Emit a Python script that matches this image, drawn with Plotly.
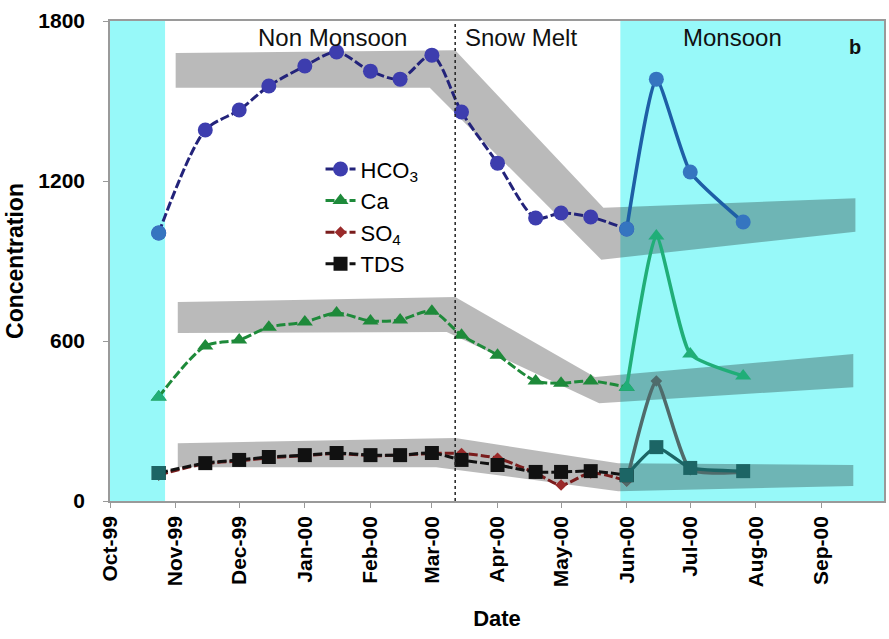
import plotly.graph_objects as go

# Sampling dates (1999-2000 season)
dates = ["1999-10-24", "1999-11-15", "1999-12-01", "1999-12-15", "2000-01-01",
         "2000-01-16", "2000-02-01", "2000-02-15", "2000-03-01", "2000-03-15",
         "2000-04-01", "2000-04-19", "2000-05-01", "2000-05-15", "2000-06-01",
         "2000-06-15", "2000-07-01", "2000-07-26"]

hco3 = [1005, 1391, 1466, 1556, 1631, 1684, 1612, 1582, 1672, 1459,
        1267, 1061, 1080, 1065, 1020, 1582, 1234, 1046]
ca = [390, 581, 604, 652, 671, 705, 675, 679, 712, 622,
      547, 450, 442, 450, 427, 994, 551, 469]
so4 = [98, 140, 150, 162, 170, 178, 170, 172, 178, 178,
       160, 105, 60, 105, 75, 450, 118, 108]
tds = [105, 142, 154, 165, 172, 180, 172, 172, 180, 154,
       135, 109, 109, 112, 97, 202, 124, 112]

# index of the first monsoon sample (lines drawn solid from here on)
monsoon_start = 14

# Expected-range envelopes (date, value) for each parameter
hco3_band_x = ["1999-11-01", "2000-03-12", "2000-05-21", "2000-09-17",
               "2000-09-17", "2000-05-20", "2000-02-29", "1999-11-01"]
hco3_band_y = [1680, 1690, 1100, 1135, 1010, 905, 1550, 1550]
ca_band_x = ["1999-11-02", "2000-03-12", "2000-05-17", "2000-09-16",
             "2000-09-16", "2000-05-19", "2000-03-08", "1999-11-02"]
ca_band_y = [746, 765, 465, 551, 427, 367, 634, 630]
tds_band_x = ["1999-11-02", "2000-03-12", "2000-05-28", "2000-09-16",
              "2000-09-16", "2000-05-28", "2000-03-03", "1999-11-02"]
tds_band_y = [217, 236, 142, 135, 56, 37, 127, 127]

# Season boundaries
monsoon_periods = [("1999-10-01", "1999-10-27"), ("2000-05-29", "2000-10-01")]
snowmelt_start = "2000-03-12"
season_labels = ["Non Monsoon", "Snow Melt", "Monsoon"]
season_label_x = ["2000-01-14", "2000-04-12", "2000-07-21"]

FONT = "Liberation Sans, Arial, sans-serif"
CYAN = "#97F9F9"
BAND = "rgba(0,0,0,0.27)"

fig = go.Figure()

for bx, by in [(hco3_band_x, hco3_band_y), (ca_band_x, ca_band_y),
               (tds_band_x, tds_band_y)]:
    fig.add_trace(go.Scatter(x=bx, y=by, fill="toself", fillcolor=BAND,
                             mode="lines", line=dict(width=0),
                             showlegend=False, hoverinfo="skip"))

# name, values, dry-season line/marker colours, monsoon line/marker colours,
# marker symbol, marker size
series = [
    ("HCO<sub>3</sub>", hco3, "#23237A", "#3D3DAE", "#1E5FA6", "#3575C0", "circle", 15),
    ("Ca", ca, "#1E8A3A", "#1E8A3A", "#20AE78", "#20AE78", "triangle-up", 14),
    ("SO<sub>4</sub>", so4, "#7A1C1C", "#9A2A2A", "#4F6B6B", "#4F6B6B", "diamond", 9),
    ("TDS", tds, "#111111", "#111111", "#1C6565", "#1C6565", "square", 14),
]

for rank, (name, vals, lc, mc, mlc, mmc, sym, ms) in enumerate(series, start=1):
    n = monsoon_start + 1
    # dry-season stretch: dashed, smoothed
    fig.add_trace(go.Scatter(
        x=dates[:n], y=vals[:n],
        mode="lines+markers", name=name, legendrank=rank,
        line=dict(color=lc, width=3, dash="9px,3px", shape="spline", smoothing=0.8),
        marker=dict(symbol=sym, size=ms, color=mc, line=dict(width=0)),
    ))
    # first sample sits in the early cyan window
    fig.add_trace(go.Scatter(
        x=dates[:1], y=vals[:1], mode="markers", showlegend=False,
        marker=dict(symbol=sym, size=ms, color=mmc, line=dict(width=0)),
    ))
    # monsoon stretch: solid
    fig.add_trace(go.Scatter(
        x=dates[monsoon_start:], y=vals[monsoon_start:],
        mode="lines+markers", name=name, showlegend=False,
        line=dict(color=mlc, width=3.5, shape="spline", smoothing=0.5),
        marker=dict(symbol=sym, size=ms, color=mmc, line=dict(width=0)),
    ))

shapes = []
for x0, x1 in monsoon_periods:
    shapes.append(dict(type="rect", xref="x", yref="paper", x0=x0, x1=x1,
                       y0=0, y1=1, fillcolor=CYAN,
                       line=dict(width=0), layer="below"))
shapes.append(dict(type="line", xref="x", yref="paper", x0=snowmelt_start,
                   x1=snowmelt_start, y0=0, y1=1,
                   line=dict(color="#222222", width=1.5, dash="dot"),
                   layer="above"))

annotations = []
for txt, xv in zip(season_labels, season_label_x):
    annotations.append(dict(x=xv, y=1738, xref="x", yref="y", text=txt,
                            showarrow=False,
                            font=dict(family=FONT, size=24, color="#111111")))
annotations.append(dict(x="2000-09-17", y=1702, xref="x", yref="y", text="<b>b</b>",
                        showarrow=False,
                        font=dict(family=FONT, size=20, color="#111111")))

fig.update_layout(
    width=889, height=639,
    margin=dict(l=110, r=3, t=21, b=138),
    paper_bgcolor="white", plot_bgcolor="white",
    shapes=shapes, annotations=annotations,
    font=dict(family=FONT, color="black"),
    legend=dict(x=0.272, y=0.735, xanchor="left", yanchor="top",
                bgcolor="rgba(0,0,0,0)", font=dict(family=FONT, size=22),
                tracegroupgap=0, itemwidth=30),
    xaxis=dict(type="date", range=["1999-10-01", "2000-09-30 12:00"],
               tick0="1999-10-01", dtick="M1", tickformat="%b-%y",
               tickangle=-90, ticks="outside", ticklen=5, tickcolor="#999999",
               showgrid=False, zeroline=False, showline=True,
               linecolor="#9A9A9A", linewidth=1.5, mirror=True,
               tickfont=dict(family=FONT, size=21, color="black", weight="bold"),
               title=dict(text="Date", standoff=24,
                          font=dict(family=FONT, size=22, color="black", weight="bold"))),
    yaxis=dict(range=[0, 1800], tick0=0, dtick=600, ticks="outside",
               ticklen=5, tickcolor="#999999", showgrid=False, zeroline=False,
               showline=True, linecolor="#9A9A9A", linewidth=1.5, mirror=True,
               ticklabelstandoff=14,
               tickfont=dict(family=FONT, size=21, color="black", weight="bold"),
               title=dict(text="Concentration", standoff=8,
                          font=dict(family=FONT, size=23, color="black", weight="bold"))),
)

fig.write_html("out.html")
